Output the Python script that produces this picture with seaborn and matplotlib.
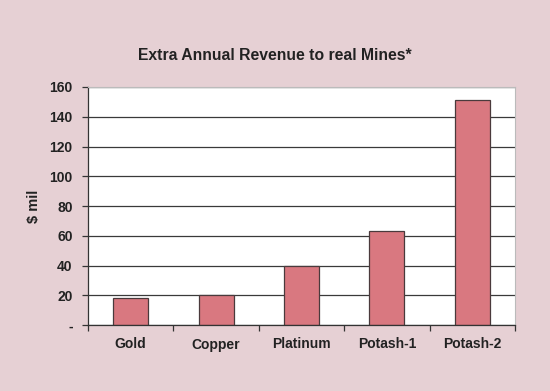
import matplotlib
matplotlib.use("Agg")
import matplotlib.pyplot as plt
import seaborn as sns
import pandas as pd

categories = ["Gold", "Copper", "Platinum", "Potash-1", "Potash-2"]
values = [18, 20.5, 40, 63.5, 151]
yticks = [0, 20, 40, 60, 80, 100, 120, 140, 160]
ytick_labels = ["-", "20", "40", "60", "80", "100", "120", "140", "160"]

sns.set_theme(style="white")
plt.rcParams['font.family'] = ['Liberation Sans', 'DejaVu Sans']

bg = "#e6d0d4"
fig = plt.figure(figsize=(5.5, 3.91), dpi=100, facecolor=bg)
ax = fig.add_axes([88/550, 1-325/391, (515-88)/550, (325-87)/391])
ax.set_facecolor("white")

df = pd.DataFrame({"cat": categories, "val": values})
sns.barplot(data=df, x="cat", y="val", ax=ax, color="#d97880", width=0.41,
            edgecolor="#4a3a3c", linewidth=0.9, saturation=1)

ax.set_ylim(0, 160)
ax.set_xlim(-0.5, 4.5)
ax.set_yticks(yticks)
ax.set_yticklabels(ytick_labels, fontsize=10, fontweight="bold", color="#222222")
ax.yaxis.grid(True, color="#3a3a3a", linewidth=0.9)
ax.set_axisbelow(True)
ax.set_xticks(range(len(categories)))
ax.set_xticklabels(categories, fontsize=10, fontweight="bold", color="#222222")
ax.tick_params(axis="x", length=0, pad=9)
ax.tick_params(axis="y", length=4, width=0.9, color="#333333", direction="out", left=True, pad=7)
ax.set_xticks([-0.5, 0.5, 1.5, 2.5, 3.5, 4.5], minor=True)
ax.tick_params(axis="x", which="minor", length=4, width=0.9, color="#333333", direction="out", bottom=True)

ax.set_xlabel("")
ax.set_ylabel("$ mil", fontsize=10.5, fontweight="bold", color="#222222", labelpad=6)

for side in ["left", "bottom"]:
    ax.spines[side].set_color("#333333")
    ax.spines[side].set_linewidth(0.9)
for side in ["top", "right"]:
    ax.spines[side].set_color("#bbbbbb")
    ax.spines[side].set_linewidth(0.8)

fig.text(0.5, 1-55/391, "Extra Annual Revenue to real Mines*", ha="center", va="center",
         fontsize=11.3, fontweight="bold", color="#222222")

fig.savefig("out.png", dpi=100, facecolor=bg)
